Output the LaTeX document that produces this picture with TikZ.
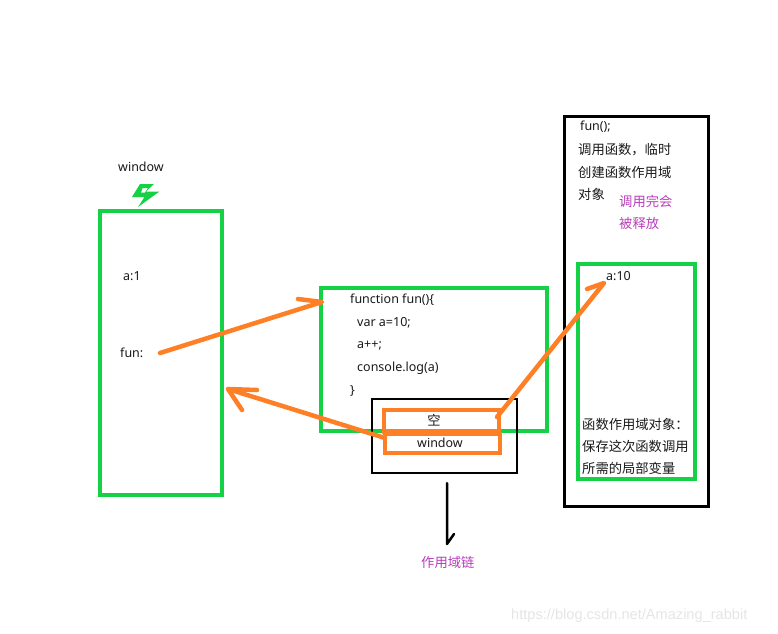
\documentclass[tikz,border=0pt]{standalone}
\usepackage{fontspec}
\setmainfont{Noto Sans}
\newfontfamily\cjk{Noto Sans CJK SC}
\newfontfamily\wmfont{Liberation Sans}
\definecolor{grn}{HTML}{14D146}
\definecolor{org}{HTML}{FF7F27}
\definecolor{pur}{HTML}{B83DBA}
\tikzset{
  gbox/.style={draw=grn,line width=4pt,fill=none},
  obox/.style={draw=org,line width=4pt,fill=none},
  kbox/.style={draw=black,fill=none},
  lbl/.style={inner sep=0pt,anchor=west,font=\fontsize{12.5}{14}\selectfont,text=black!90},
  clbl/.style={lbl,font=\fontsize{13.3}{15}\selectfont\cjk},
  plbl/.style={clbl,text=pur},
  stroke/.style={draw=org,line width=4.5pt,line cap=round,line join=round},
  ptr/.style={draw=black,line width=2.5pt,line cap=round,line join=round}
}
\begin{document}
\begin{tikzpicture}[x=1pt,y=-1pt]
\useasboundingbox (0,0) rectangle (778,633);
\node[inner sep=0pt,minimum width=122pt,minimum height=284pt,gbox] (win) at (161,353) {};
\node[inner sep=0pt,minimum width=226pt,minimum height=143pt,gbox] (code) at (434,359.5) {};
\node[inner sep=0pt,minimum width=145pt,minimum height=74pt,kbox,line width=2pt] (chain) at (444.5,436) {};
\node[inner sep=0pt,minimum width=144pt,minimum height=390pt,kbox,line width=3pt] (call) at (636,311) {};
\node[inner sep=0pt,minimum width=117pt,minimum height=215pt,gbox] (scope) at (636.5,371.5) {};
\node[inner sep=0pt,minimum width=115pt,minimum height=22pt,obox] (empty) at (441.5,421) {};
\node[inner sep=0pt,minimum width=115pt,minimum height=19pt,obox] (winref) at (442.5,443.5) {};
\fill[org] (384,429) rectangle (500,436);
% bolt
\fill[grn,even odd rule] (140,184) -- (154,184) -- (146,191.5) -- (159.5,191.5) -- (138,207) -- (144.5,197) -- (132,197) -- cycle
  (142.5,188) -- (148,188) -- (145,192.5) -- (141,192.5) -- cycle;
% labels
\node[lbl] (tw) at (118,167) {window};
\node[lbl] (ta) at (123,276) {a:1};
\node[lbl] (tf) at (120,353) {fun:};
\node[lbl] (c1) at (350,299.5) {function fun()\{};
\node[lbl] (c2) at (357,322.5) {var a=10;};
\node[lbl] (c3) at (357,345.5) {a++;};
\node[lbl] (c4) at (357,368.5) {console.log(a)};
\node[lbl] (c5) at (350,391.5) {\}};
\node[clbl,anchor=center] (t0) at (434,420) {空};
\node[lbl,anchor=center] (t1) at (440,443) {window};
\node[lbl] (r1) at (580,127) {fun();};
\node[clbl] (r2) at (578,150) {调用函数，临时};
\node[clbl] (r3) at (578,172) {创建函数作用域};
\node[clbl] (r4) at (578,194) {对象};
\node[plbl] (r5) at (619,201) {调用完会};
\node[plbl] (r6) at (619,223) {被释放};
\node[lbl] (r7) at (606,276) {a:10};
\node[clbl] (r8) at (582,424) {函数作用域对象：};
\node[clbl] (r9) at (582,446) {保存这次函数调用};
\node[clbl] (r10) at (582,468) {所需的局部变量};
\node[plbl] (tc) at (421,562) {作用域链};
\node[anchor=west,inner sep=0pt,font=\fontsize{14.6}{16}\selectfont\wmfont,text=black!10] (wm) at (511,616) {https://blog.csdn.net/Amazing\_rabbit};
% connectors
\coordinate (a1s) at (160,353);
\coordinate (a1t) at (322,302);
\coordinate (a1h) at (298,299);
\draw[stroke] (a1s) -- (a1t) -- (a1h);
\coordinate (a2s) at (385,438);
\coordinate (a2t) at (228,389);
\coordinate (a2h) at (257,390);
\coordinate (a2i) at (242,410);
\draw[stroke] (a2s) -- (a2t) -- (a2h);
\draw[stroke] (a2t) -- (a2i);
\coordinate (a3s) at (497,417);
\coordinate (a3t) at (604,283);
\coordinate (a3h) at (587,289);
\draw[stroke] (a3s) -- (a3t) -- (a3h);
\coordinate (a4s) at (447,483);
\coordinate (a4t) at (447,544);
\coordinate (a4h) at (454,534);
\draw[ptr] (a4s) -- (a4t) -- (a4h);
\end{tikzpicture}
\end{document}
